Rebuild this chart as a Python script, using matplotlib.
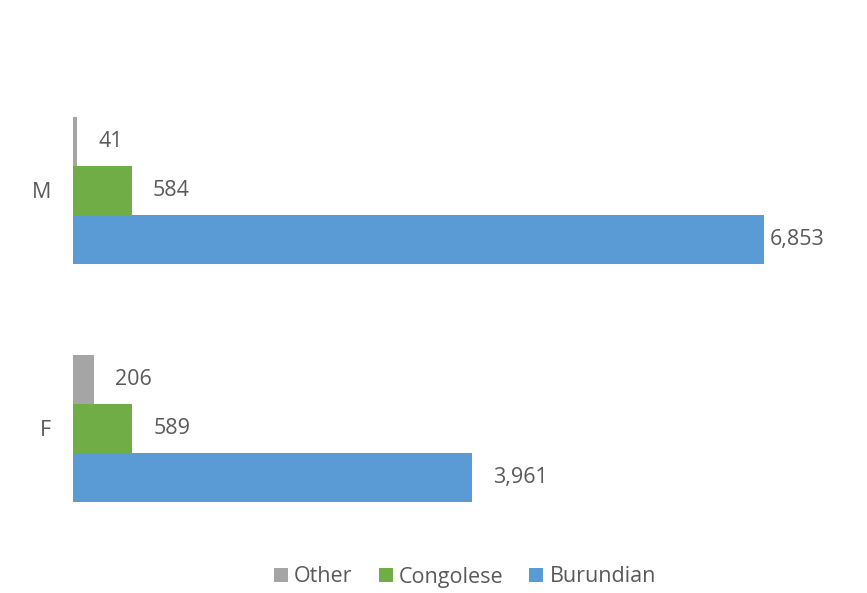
import matplotlib.pyplot as plt
import numpy as np

plt.rcParams['font.family'] = ['Open Sans', 'DejaVu Sans']

# data
categories = ['F', 'M']
series = ['Burundian', 'Congolese', 'Other']
burundian = [3961, 6853]
congolese = [589, 584]
other = [206, 41]
colors = {'Burundian': '#5B9BD5', 'Congolese': '#70AD47', 'Other': '#A5A5A5'}

values = {'Burundian': burundian, 'Congolese': congolese, 'Other': other}
text_color = '#595959'
fs = 15.5

fig = plt.figure(figsize=(8.67, 5.93), dpi=100)
ax = fig.add_axes([73 / 867, 46 / 593, 767 / 867, 475.5 / 593])

y = np.arange(len(categories))
h = 0.206
offsets = {'Burundian': -h, 'Congolese': 0.0, 'Other': h}
xmax = 7610

bars = {}
for s in series:
    bars[s] = ax.barh(y + offsets[s], values[s], height=h, color=colors[s], label=s)
    for rect, v in zip(bars[s], values[s]):
        pad = 21 if v < 0.85 * xmax else 6
        ax.annotate(f'{v:,}', (rect.get_width(), rect.get_y() + rect.get_height() / 2),
                    xytext=(pad * 0.72, 0), textcoords='offset points',
                    ha='left', va='center', fontsize=fs, color=text_color)

ax.set_xlim(0, xmax)
ax.set_ylim(-0.5, 1.5)
ax.set_yticks(y)
ax.set_yticklabels(categories, fontsize=fs, color=text_color)
ax.tick_params(axis='y', length=0, pad=16)
ax.set_xticks([])
for sp in ax.spines.values():
    sp.set_visible(False)

handles = [bars['Other'], bars['Congolese'], bars['Burundian']]
fig.legend(handles, ['Other', 'Congolese', 'Burundian'], loc='center',
           bbox_to_anchor=(465 / 867, 1 - 577 / 593), ncol=3, frameon=False,
           handlelength=0.65, handleheight=0.65, handletextpad=0.3, columnspacing=1.2,
           fontsize=fs, labelcolor=text_color)

fig.savefig('out.png', dpi=100)
